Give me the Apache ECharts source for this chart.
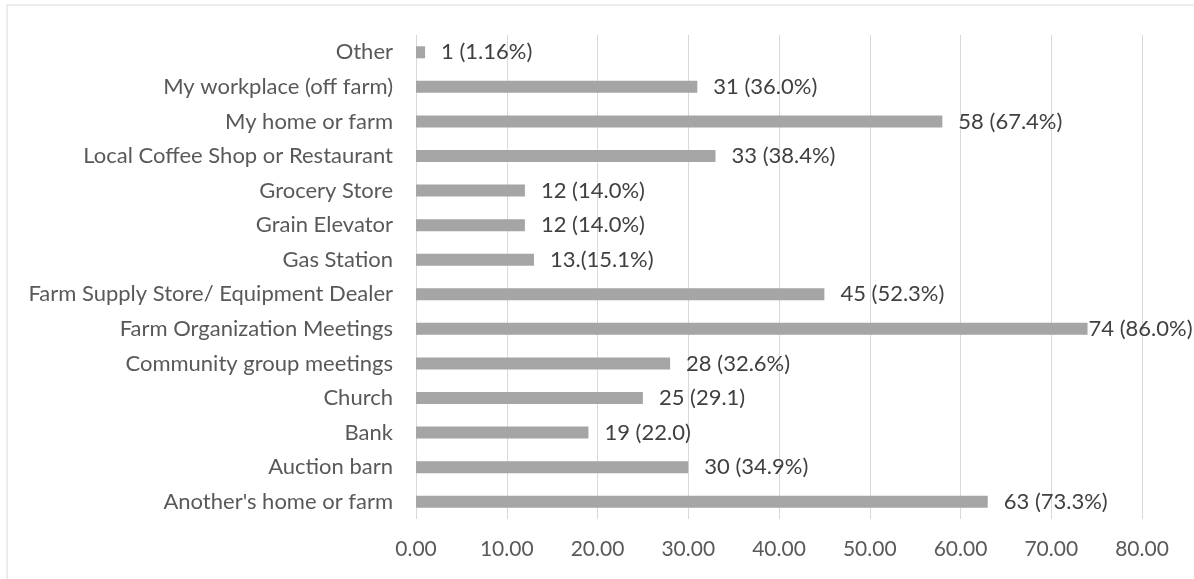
<!DOCTYPE html>
<html>
<head>
<meta charset="utf-8">
<title>Where respondents get information</title>
<script src="https://cdn.jsdelivr.net/npm/echarts@6/dist/echarts.min.js"></script>
<style>
  html, body { margin: 0; padding: 0; background: #ffffff; }
  #chart { width: 1194px; height: 579px; }
</style>
</head>
<body>
<div id="chart"></div>
<script>
// Categories listed bottom to top, as the category axis draws them
const categories = [
  "Another's home or farm",
  "Auction barn",
  "Bank",
  "Church",
  "Community group meetings",
  "Farm Organization Meetings",
  "Farm Supply Store/ Equipment Dealer",
  "Gas Station",
  "Grain Elevator",
  "Grocery Store",
  "Local Coffee Shop or Restaurant",
  "My home or farm",
  "My workplace (off farm)",
  "Other"
];

// Number of respondents per location
const counts = [63, 30, 19, 25, 28, 74, 45, 13, 12, 12, 33, 58, 31, 1];

// Share text printed after each count
const shares = [
  " (73.3%)", " (34.9%)", " (22.0)", " (29.1)", " (32.6%)", " (86.0%)", " (52.3%)",
  ".(15.1%)", " (14.0%)", " (14.0%)", " (38.4%)", " (67.4%)", " (36.0%)", " (1.16%)"
];

// Value axis tick settings
const axisMin = 0;
const axisMax = 80;
const axisStep = 10;

const FONT = 'Lato, "Open Sans", sans-serif';

const chart = echarts.init(document.getElementById('chart'), null, { renderer: 'canvas' });

const barData = counts.map(function (v) {
  const item = { value: v };
  // The longest bar keeps its label tight against the bar end
  if (v === Math.max.apply(null, counts)) {
    item.label = { distance: 1 };
  }
  return item;
});

chart.setOption({
  animation: false,
  backgroundColor: '#ffffff',
  graphic: [{
    type: 'rect',
    shape: { x: 7, y: 5, width: 1300, height: 700 },
    style: { fill: 'none', stroke: '#d9d9d9', lineWidth: 1 },
    silent: true,
    z: -1
  }],
  grid: { left: 416, right: 52, top: 35, bottom: 60, containLabel: false },
  xAxis: {
    type: 'value',
    min: axisMin,
    max: axisMax,
    interval: axisStep,
    axisLine: { show: false },
    axisTick: { show: false },
    splitLine: { show: true, lineStyle: { color: '#d9d9d9', width: 1 } },
    axisLabel: {
      margin: 20,
      color: '#595959',
      fontFamily: FONT,
      fontSize: 21,
      formatter: function (v) { return v.toFixed(2); }
    }
  },
  yAxis: {
    type: 'category',
    data: categories,
    axisLine: { show: false },
    axisTick: { show: false },
    splitLine: { show: false },
    axisLabel: {
      margin: 23,
      color: '#595959',
      fontFamily: FONT,
      fontSize: 22
    }
  },
  series: [{
    type: 'bar',
    data: barData,
    barWidth: 12,
    itemStyle: { color: '#a5a5a5' },
    label: {
      show: true,
      position: 'right',
      distance: 16,
      color: '#404040',
      fontFamily: FONT,
      fontSize: 22,
      formatter: function (p) { return p.value + shares[p.dataIndex]; }
    }
  }]
});
</script>
</body>
</html>
